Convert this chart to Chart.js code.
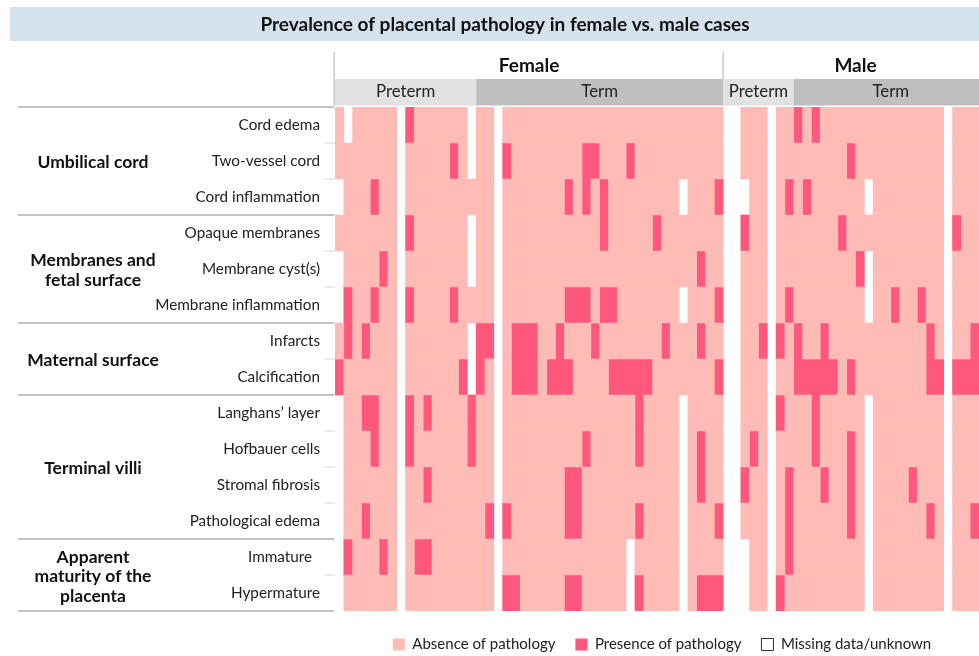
<!DOCTYPE html>
<html>
<head>
<meta charset="utf-8">
<script src="https://cdn.jsdelivr.net/npm/chart.js@4.4.1/dist/chart.umd.min.js"></script>
<style>
  html, body { margin: 0; padding: 0; background: #fff; overflow: hidden; }
  #wrap { width: 979px; height: 656px; overflow: hidden; }
</style>
</head>
<body>
<div id="wrap"><canvas id="heat" width="979" height="662"></canvas></div>

<script>
var N = null; // missing / unknown

var chartTitle = 'Prevalence of placental pathology in female vs. male cases';

var features = ['Cord edema', 'Two-vessel cord', 'Cord inflammation',
  'Opaque membranes', 'Membrane cyst(s)', 'Membrane inflammation',
  'Infarcts', 'Calcification',
  'Langhans\u2019 layer', 'Hofbauer cells', 'Stromal fibrosis', 'Pathological edema',
  'Immature  ', 'Hypermature'];

var groupNames = [['Umbilical cord'], ['Membranes and', 'fetal surface'], ['Maternal surface'],
  ['Terminal villi'], ['Apparent', 'maturity of the', 'placenta']];
var groupSizes = [3, 3, 2, 4, 2];

var sexNames = ['Female', 'Male'];
var stageNames = ['Preterm', 'Term', 'Preterm', 'Term'];
var stageCases = [16, 28, 8, 22]; // male term runs past the right edge of the picture

var statusNames = ['Absence of pathology', 'Presence of pathology', 'Missing data/unknown'];
var statusColors = ['#ffbbb5', '#ff587c', '#ffffff'];

// one value per case: 0 = absent, 1 = present, N = missing
var cordEdema = [
  0,N,0,0,0,0,0,N,1,0, 0,0,0,0,0,N,0,0,N,0, 0,0,0,0,0,0,0,0,0,0, 0,0,0,0,0,0,0,0,0,0,
  0,0,0,0,N,N,0,0,0,N, 0,0,1,0,1,0,0,0,0,0, 0,0,0,0,0,0,0,0,0,N, 0,0,0];
var twoVesselCord = [
  0,0,0,0,0,0,0,N,0,0, 0,0,0,1,0,N,0,0,N,1, 0,0,0,0,0,0,0,0,1,1, 0,0,0,1,0,0,0,0,0,0,
  0,0,0,0,N,N,0,0,0,N, 0,0,0,0,0,0,0,0,1,0, 0,0,0,0,0,0,0,0,0,N, 0,0,0];
var cordInflammation = [
  N,0,0,0,1,0,0,N,0,0, 0,0,0,0,0,0,0,0,N,0, 0,0,0,0,0,0,1,0,1,0, 1,0,0,0,0,0,0,0,0,N,
  0,0,0,1,N,N,N,0,0,N, 0,1,0,1,0,0,0,0,0,0, N,0,0,0,0,0,0,0,0,N, 0,0,0];
var opaqueMembranes = [
  0,0,0,0,0,0,0,N,1,0, 0,0,0,0,0,N,0,0,N,0, 0,0,0,0,0,0,0,0,0,0, 1,0,0,0,0,0,1,0,0,0,
  0,0,0,0,N,N,1,0,0,N, 0,0,0,0,0,0,0,1,0,0, 0,0,0,0,0,0,0,0,0,N, 1,0,0];
var membraneCysts = [
  N,0,0,0,0,1,0,N,0,0, 0,0,0,0,0,N,0,0,N,0, 0,0,0,0,0,0,0,0,0,0, 0,0,0,0,0,0,0,0,0,0,
  0,1,0,0,N,N,0,0,0,N, 0,0,0,0,0,0,0,0,0,1, N,0,0,0,0,0,0,0,0,N, 0,0,0];
var membraneInflammation = [
  N,1,0,0,1,0,0,N,1,0, 0,0,0,1,0,0,0,0,N,0, 0,0,0,0,0,0,1,1,1,0, 1,1,0,0,0,0,0,0,0,N,
  0,0,0,1,N,N,0,0,0,N, 0,1,0,0,0,0,0,0,0,0, N,0,0,1,0,0,1,0,0,N, 0,0,0];
var infarcts = [
  0,1,0,1,0,0,0,N,0,0, 0,0,0,0,0,N,1,1,N,0, 1,1,1,0,0,1,0,0,0,1, 0,0,0,0,0,0,0,1,0,0,
  0,1,0,0,N,N,0,0,1,N, 1,0,1,0,0,1,0,0,0,0, 0,0,0,0,0,0,0,1,0,N, 0,0,1];
var calcification = [
  1,0,0,0,0,0,0,N,0,0, 0,0,0,0,1,N,1,0,N,0, 1,1,1,0,1,1,1,0,0,0, 0,1,1,1,1,1,0,0,0,0,
  0,0,0,1,N,N,0,0,0,N, 0,0,1,1,1,1,1,0,1,0, 0,0,0,0,0,0,0,1,1,N, 1,1,1];
var langhansLayer = [
  N,0,0,1,1,0,0,N,1,0, 1,0,0,0,0,1,0,0,N,0, 0,0,0,0,0,0,0,0,0,0, 0,0,0,0,1,0,0,0,0,N,
  0,0,0,0,N,N,0,0,0,N, 1,0,0,0,1,0,0,0,0,0, N,0,0,0,0,0,0,0,0,N, 0,0,0];
var hofbauerCells = [
  N,0,0,0,1,0,0,N,1,0, 0,0,0,0,0,1,0,0,N,0, 0,0,0,0,0,0,0,0,1,0, 0,0,0,0,1,0,0,0,0,N,
  0,1,0,0,N,N,0,1,0,N, 0,0,0,0,1,0,0,0,1,0, N,0,0,0,0,0,0,0,0,N, 0,0,0];
var stromalFibrosis = [
  N,0,0,0,0,0,0,N,0,0, 1,0,0,0,0,0,0,0,N,0, 0,0,0,0,0,0,1,1,0,0, 0,0,0,0,0,0,0,0,0,N,
  0,1,0,0,N,N,1,0,0,N, 0,1,0,0,0,1,0,0,1,0, N,0,0,0,0,1,0,0,0,N, 0,0,0];
var pathologicalEdema = [
  N,0,0,1,0,0,0,N,0,0, 0,0,0,0,0,0,0,1,N,1, 0,0,0,0,0,0,1,1,0,0, 0,0,0,0,1,0,0,0,0,N,
  0,0,0,1,N,N,0,0,0,N, 0,1,0,0,0,0,0,0,1,0, N,0,0,0,0,0,0,1,0,N, 0,0,1];
var immature = [
  N,1,0,0,0,1,0,N,0,1, 1,0,0,0,0,0,0,0,N,0, 0,0,0,0,0,0,0,0,0,0, 0,0,0,N,0,0,0,0,0,N,
  0,0,0,0,N,N,N,0,0,N, 0,1,0,0,0,0,0,0,0,0, N,0,0,0,0,0,0,0,0,N, 0,0,0];
var hypermature = [
  N,0,0,0,0,0,0,N,0,0, 0,0,0,0,0,0,0,0,N,1, 1,0,0,0,0,0,1,1,0,0, 0,0,0,N,1,0,0,0,0,N,
  0,1,1,1,N,N,N,0,0,N, 1,0,0,0,0,0,0,0,0,0, N,0,0,0,0,0,0,0,0,N, 0,0,0];

var rows = [cordEdema, twoVesselCord, cordInflammation, opaqueMembranes, membraneCysts,
  membraneInflammation, infarcts, calcification, langhansLayer, hofbauerCells,
  stromalFibrosis, pathologicalEdema, immature, hypermature];

function code(v) { return v === null ? 2 : v; }

// merge neighbouring cases with the same status into one floating bar
function runsFor(status) {
  var out = [];
  rows.forEach(function (vals, r) {
    var c = 0;
    while (c < vals.length) {
      var e = c + 1;
      while (e < vals.length && code(vals[e]) === code(vals[c])) e++;
      if (code(vals[c]) === status) out.push({ y: features[r], x: [c, e] });
      c = e;
    }
  });
  return out;
}

var datasets = statusNames.map(function (name, i) {
  return {
    label: name,
    data: runsFor(i),
    backgroundColor: statusColors[i],
    borderWidth: 0,
    barPercentage: 1,
    categoryPercentage: 1,
    grouped: false
  };
});

function line(ctx, x1, y1, x2, y2) {
  ctx.beginPath(); ctx.moveTo(x1, y1); ctx.lineTo(x2, y2); ctx.stroke();
}

var decor = {
  id: 'decor',
  afterLayout: function (chart) {
    // nudge the legend a little to the right, as in the original
    chart.legend.left += 5;
    chart.legend.right += 5;
  },
  beforeDraw: function (chart) {
    var ctx = chart.ctx, xs = chart.scales.x, ys = chart.scales.y;
    var rowH = ys.getPixelForValue(1) - ys.getPixelForValue(0);
    var top0 = ys.getPixelForValue(0) - rowH / 2;
    function rowEdge(i) { return top0 + i * rowH; }

    ctx.save();
    // title banner
    ctx.fillStyle = '#d5e1ed';
    ctx.fillRect(10, 7, chart.width - 10, 34);
    ctx.fillStyle = '#111';
    ctx.textAlign = 'center';
    ctx.textBaseline = 'middle';
    ctx.font = 'bold 19px Lato';
    ctx.fillText(chartTitle, 505, 24.5);

    // sex / term headers
    var edges = [0];
    stageCases.forEach(function (n) { edges.push(edges[edges.length - 1] + n); });
    ctx.font = 'bold 19px Lato';
    ctx.fillStyle = '#111';
    sexNames.forEach(function (name, i) {
      var a = xs.getPixelForValue(edges[i * 2]), b = xs.getPixelForValue(edges[i * 2 + 2]);
      ctx.fillText(name, (a + b) / 2, 66);
    });
    stageNames.forEach(function (name, i) {
      var a = xs.getPixelForValue(edges[i]), b = xs.getPixelForValue(edges[i + 1]);
      ctx.fillStyle = name === 'Term' ? '#bfbfbf' : '#e2e2e2';
      ctx.fillRect(a, 79, b - a, 26.5);
      ctx.fillStyle = '#222';
      ctx.font = '16.8px Lato';
      ctx.fillText(name, (a + b) / 2, 92);
    });
    var left = xs.getPixelForValue(0);
    ctx.strokeStyle = '#c8c8c8';
    ctx.lineWidth = 1.5;
    line(ctx, left - 0.75, 52, left - 0.75, 106);
    var mid = xs.getPixelForValue(edges[2]);
    line(ctx, mid, 52, mid, 79);

    // row ticks
    ctx.strokeStyle = '#d8d8d8';
    ctx.lineWidth = 1;
    for (var i = 1; i < features.length; i++) line(ctx, 325, rowEdge(i), left, rowEdge(i));

    // group rules and names
    var start = 0;
    ctx.strokeStyle = '#c4c4c4';
    ctx.lineWidth = 2;
    line(ctx, 18, rowEdge(0), left - 1, rowEdge(0));
    groupSizes.forEach(function (n, g) {
      var end = start + n;
      line(ctx, 18, rowEdge(end), left - 1, rowEdge(end));
      var cy = (rowEdge(start) + rowEdge(end)) / 2 + 1.5;
      var lines = groupNames[g];
      ctx.fillStyle = '#111';
      ctx.font = 'bold 17.5px Lato';
      lines.forEach(function (t, k) {
        ctx.fillText(t, 93, cy + (k - (lines.length - 1) / 2) * 19.5);
      });
      start = end;
    });
    ctx.restore();
  }
};

new Chart(document.getElementById('heat'), {
  type: 'bar',
  data: { labels: features, datasets: datasets },
  options: {
    indexAxis: 'y',
    responsive: false,
    animation: false,
    layout: { padding: { top: 107, left: 0, right: 0, bottom: 0 } },
    scales: {
      x: {
        type: 'linear', min: 0, max: 73,
        ticks: { display: false },
        grid: { display: false, drawTicks: false },
        border: { display: false },
        afterFit: function (s) { s.height = 6; }
      },
      y: {
        type: 'category', offset: true,
        grid: { display: false, drawTicks: false },
        border: { display: false },
        ticks: { autoSkip: false, padding: 15, color: '#222', font: { family: 'Lato', size: 15.3 } },
        afterFit: function (s) { s.width = 335; }
      }
    },
    plugins: {
      tooltip: { enabled: false },
      legend: {
        position: 'bottom',
        fullSize: false,
        align: 'center',
        labels: {
          boxWidth: 12, boxHeight: 12, padding: 20, color: '#222',
          font: { family: 'Lato', size: 15 },
          generateLabels: function (chart) {
            return chart.data.datasets.map(function (ds, i) {
              return {
                text: ds.label,
                fillStyle: ds.backgroundColor,
                strokeStyle: i === 2 ? '#333' : ds.backgroundColor,
                lineWidth: i === 2 ? 1 : 0,
                fontColor: '#222',
                hidden: false,
                datasetIndex: i
              };
            });
          }
        }
      }
    }
  },
  plugins: [decor]
});
</script>
</body>
</html>
